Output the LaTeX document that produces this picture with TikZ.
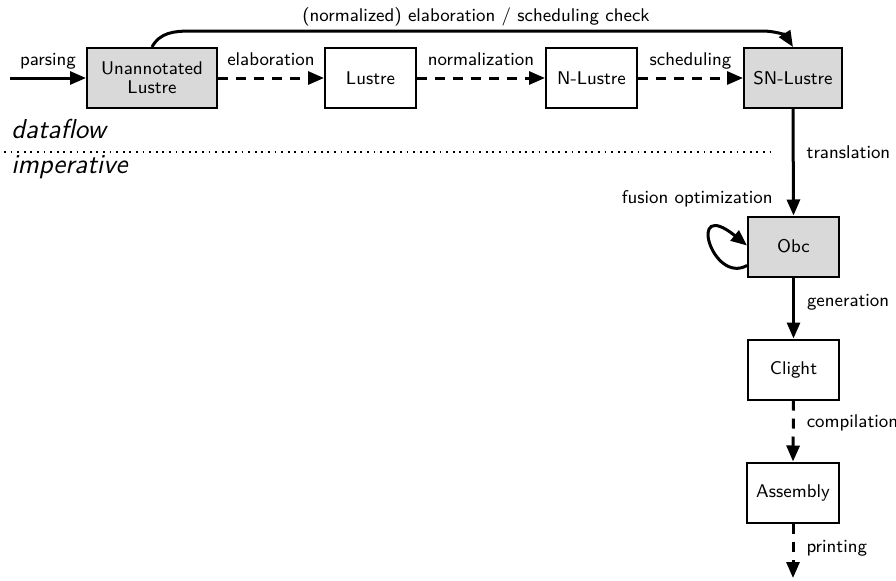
\documentclass[tikz,border=0pt]{standalone}
\usepackage{fontspec}
\usetikzlibrary{arrows.meta}
\begin{document}
\begin{tikzpicture}[x=0.5pt,y=-0.5pt,
  lbl/.style={font=\sffamily\fontsize{9.2}{9.6}\selectfont},
  stage/.style={draw, line width=1pt, minimum width=45.5pt, minimum height=30pt,
                inner sep=0pt, lbl, align=center},
  shaded/.style={stage, fill=black!15},
  flow/.style={line width=1.5pt, -{Triangle[length=8pt,width=6.5pt]}},
  opt/.style={flow, dash pattern=on 5pt off 4pt},
  abovelbl/.style={lbl, anchor=base, yshift=6.5pt, inner sep=0pt},
  rightlbl/.style={lbl, anchor=west, xshift=6pt, inner sep=0pt},
  level/.style={font=\sffamily\itshape\fontsize{13.7}{16}\selectfont,
                anchor=base west, inner sep=0pt}]

\useasboundingbox (0,0) rectangle (896,580);

% compilation stages
\node[shaded, minimum width=65pt] (ul)  at (152,78)    {Unannotated\\Lustre};
\node[stage]                      (lus) at (370.5,78)  {Lustre};
\node[stage]                      (nl)  at (591.5,78)  {N-Lustre};
\node[shaded, minimum width=49pt] (sn)  at (793,78)    {SN-Lustre};
\node[shaded]                     (obc) at (793.5,246.5) {Obc};
\node[stage]                      (cl)  at (793.5,369.5) {Clight};
\node[stage, minimum width=46pt]  (asm) at (793,492.5) {Assembly};

\coordinate (src) at (10,78);
\coordinate (out) at (793,578);

% dataflow / imperative separation
\node[level] (df) at (11,138) {dataflow};
\node[level] (im) at (11,173) {imperative};
\coordinate (sepL) at (4,152);
\coordinate (sepR) at (773,152);
\draw[line width=0.9pt, dash pattern=on 0.9pt off 2.4pt] (sepL) -- (sepR);

% dataflow passes
\draw[flow] (src) -- node[abovelbl, midway] (lparse) {parsing} (ul.west);
\draw[opt] (ul.east) -- node[abovelbl, midway] (lelab) {elaboration} (lus.west);
\draw[opt] (lus.east) -- node[abovelbl, midway] (lnorm) {normalization} (nl.west);
\draw[opt] (nl.east) -- node[abovelbl, midway] (lsched) {scheduling} (sn.west);
\draw[flow] (ul.north) to[out=62,in=180] (190,31) --
  node[lbl, midway, anchor=base, yshift=5pt, inner sep=0pt] (lcheck)
  {(normalized) elaboration / scheduling check}
  (762,31) to[out=0,in=122] (sn.north);

% imperative passes
\draw[flow] (sn.south) -- node[rightlbl, pos=0.41] (ltrans) {translation} (obc.north);
\draw[flow] ([yshift=-9.5pt]obc.west) .. controls (712,285) and (686,196) ..
  ([yshift=0.5pt]obc.west);
\node[lbl, anchor=east, inner sep=0pt] (lfus) at (773,199) {fusion optimization};
\draw[flow] (obc.south) -- node[rightlbl, pos=0.4] (lgen) {generation} (cl.north);
\draw[opt] (cl.south) -- node[rightlbl, pos=0.37] (lcomp) {compilation} (asm.north);
\draw[opt] (asm.south) -- node[rightlbl, pos=0.45] (lprint) {printing} (out);

\end{tikzpicture}
\end{document}
